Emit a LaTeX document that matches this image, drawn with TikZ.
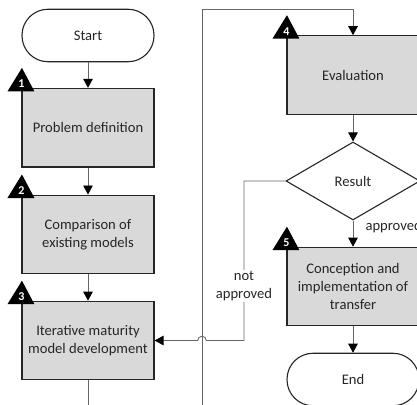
\documentclass[tikz,border=0pt]{standalone}
\usepackage{fontspec}
\setmainfont{Carlito}
\usetikzlibrary{shapes.geometric,arrows.meta}
\begin{document}
\begin{tikzpicture}[x=1pt,y=-1pt,
  txt/.style={font=\fontsize{14.6}{18}\selectfont, text=black!85},
  box/.style={txt, draw=black!85, line width=1.1pt, fill=gray!30, minimum width=132pt, minimum height=78.5pt, align=center, inner sep=0pt},
  term/.style={txt, draw=black!85, line width=1.1pt, fill=white, rounded corners=26pt, minimum width=132pt, minimum height=52.5pt, inner sep=0pt},
  dec/.style={txt, diamond, draw=black!85, line width=1.1pt, fill=white, minimum width=134pt, minimum height=78pt, inner sep=0pt},
  conn/.style={draw=black!60, line width=0.9pt},
  arr/.style={conn, -{Triangle[length=9pt,width=9.5pt,color=black]}},
  lab/.style={txt, fill=white, inner sep=1pt, align=center},
  num/.pic={\fill[black] (0.5,-20) -- (-14,3.5) -- (13,3.5) -- cycle;
            \node[white, font=\fontsize{12}{12}\selectfont\bfseries] at (0,-4) {#1};}
]
\path[use as bounding box, clip] (0,0) rectangle (417,404);

\node[term] (start) at (88,35.5) {Start};
\node[box] (b1) at (88,127.7) {Problem definition};
\node[box] (b2) at (88,234.3) {Comparison of\\existing models};
\node[box] (b3) at (88,340.5) {Iterative maturity\\model development};
\node[box] (b4) at (353,75) {Evaluation};
\node[dec] (res) at (353,181) {Result};
\node[box] (b5) at (353,286.5) {Conception and\\implementation of\\transfer};
\node[term] (end) at (353,379.5) {End};

\pic at (b1.north west) {num=1};
\pic at (b2.north west) {num=2};
\pic at (b3.north west) {num=3};
\pic at (b4.north west) {num=4};
\pic at (b5.north west) {num=5};

\coordinate (bot1) at (88,412);
\coordinate (bot2) at (202,412);
\coordinate (loop) at (202,9);
\coordinate (na) at (244,340.5);
\coordinate (hopR) at (206.3,340.5);

\draw[arr] (start) -- (b1);
\draw[arr] (b1) -- (b2);
\draw[arr] (b2) -- (b3);
\draw[conn] (b3) -- (bot1);
\draw[arr] (bot2) -- (loop) -| (b4.north);
\draw[arr] (b4) -- (res);
\draw[arr] (res) -- (b5);
\draw[arr] (b5) -- (end);
\draw[arr] (res.west) -| (na) -- (hopR) arc[start angle=0, end angle=-180, radius=4.3] -- (b3.east);

\node[lab] (nalab) at (244,286) {not\\approved};
\node[txt, anchor=west] (aplab) at (362,227) {approved};
\end{tikzpicture}
\end{document}
